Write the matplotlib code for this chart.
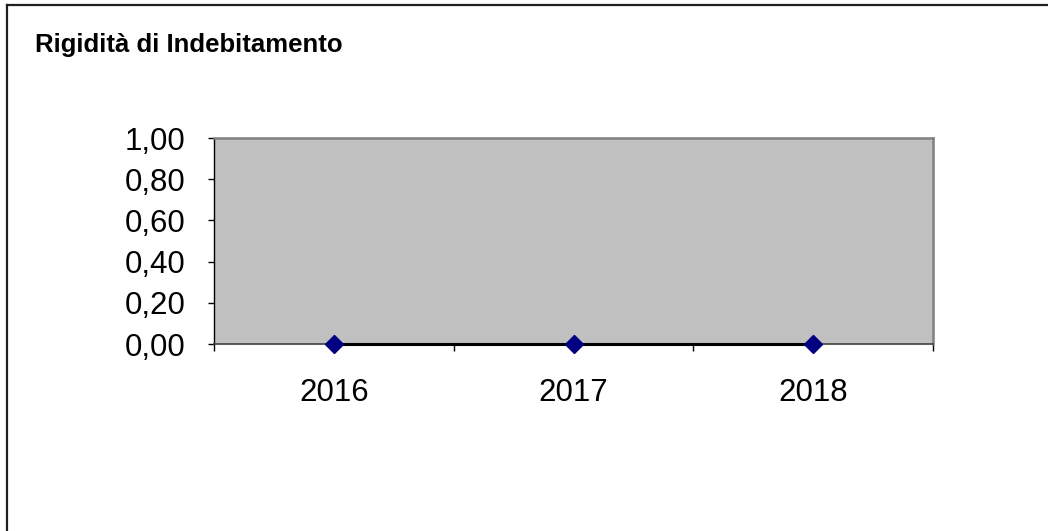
import matplotlib.pyplot as plt
from matplotlib.lines import Line2D
from matplotlib.ticker import FuncFormatter

years = ["2016", "2017", "2018"]
values = [0.0, 0.0, 0.0]
y_ticks = [0.0, 0.2, 0.4, 0.6, 0.8, 1.0]
title = "Rigidità di Indebitamento"

plt.rcParams['font.family'] = ['Liberation Sans', 'DejaVu Sans']

fig = plt.figure(figsize=(10.48, 5.31), dpi=100)
ax = fig.add_axes([214 / 1048, 1 - 344 / 531, (933 - 214) / 1048, (344 - 138) / 531])
ax.set_facecolor("#c0c0c0")

x = list(range(len(years)))
ax.plot(x, values, color="black", linewidth=2.2, marker="D", markersize=9,
        markerfacecolor="#000080", markeredgecolor="#000080", zorder=3, clip_on=False)

ax.set_xlim(-0.5, len(years) - 0.5)
ax.set_ylim(0, 1)
ax.set_yticks(y_ticks)
ax.yaxis.set_major_formatter(FuncFormatter(lambda v, p: f"{v:.2f}".replace(".", ",")))
ax.set_xticks(x)
ax.set_xticklabels(years)
ax.set_xticks([i - 0.5 for i in range(len(years) + 1)], minor=True)

ax.tick_params(axis="x", which="major", length=0, pad=24.5, labelsize=22.5)
ax.tick_params(axis="x", which="minor", length=5, width=1, direction="out", color="black")
ax.tick_params(axis="y", length=4.5, width=1, direction="out", pad=16, labelsize=22.5, color="black")

for side in ["top", "right"]:
    ax.spines[side].set_color("#808080")
    ax.spines[side].set_linewidth(1.8)
ax.spines["left"].set_color("black")
ax.spines["left"].set_linewidth(1)
ax.spines["bottom"].set_color("#404040")
ax.spines["bottom"].set_linewidth(1.2)

fig.text(35 / 1048, 1 - 45 / 531, title, fontsize=18.5, fontweight="bold", va="center", ha="left")

# outer chart frame (top and left edges visible)
fig.add_artist(Line2D([6.5 / 1048, 1], [1 - 4.5 / 531, 1 - 4.5 / 531], color="#202020", linewidth=1.6, transform=fig.transFigure))
fig.add_artist(Line2D([6.5 / 1048, 6.5 / 1048], [0, 1 - 4.5 / 531], color="#202020", linewidth=1.6, transform=fig.transFigure))

fig.savefig("out.png", dpi=100)
